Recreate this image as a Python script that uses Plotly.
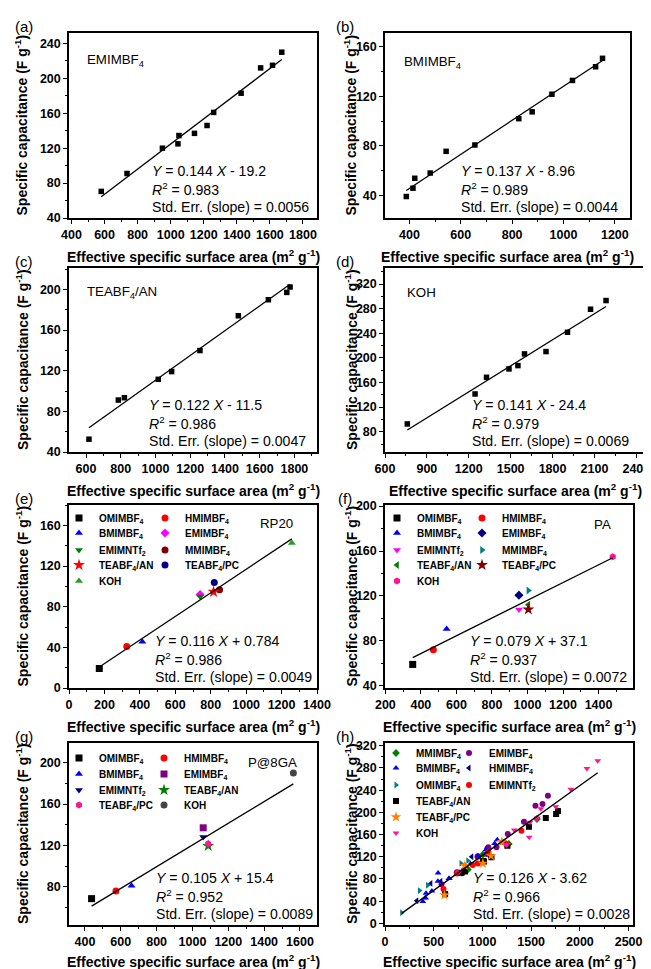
import plotly.graph_objects as go

PAGE_W, PAGE_H = 651, 969
OFF = 8                      # default body margin of the html page
W, H = PAGE_W - OFF, PAGE_H - OFF
FONT = "Liberation Sans"

# ---------------- data ----------------
# (a) EMIMBF4
a_x = [580, 736, 950, 1044, 1050, 1144, 1220, 1260, 1426, 1544, 1616, 1672]
a_y = [70.5, 91, 120, 125, 134.5, 137, 146, 161, 183, 212, 215, 230]
# (b) BMIMBF4
b_x = [388, 414, 421, 481, 543, 655, 826, 878, 955, 1035, 1125, 1152]
b_y = [39.3, 46, 54, 58.2, 75.7, 80.8, 102, 107.5, 121.7, 132.8, 143.8, 150.6]
# (c) TEABF4/AN
c_x = [617, 786, 821, 1016, 1093, 1256, 1477, 1650, 1756, 1775]
c_y = [52.6, 91.1, 93.4, 111.5, 119.1, 139.8, 174, 189.8, 197, 202.3]
# (d) KOH
d_x = [760, 1245, 1327, 1488, 1552, 1599, 1753, 1907, 2072, 2183]
d_y = [92.6, 141.3, 168.4, 182, 187.4, 206.4, 210.2, 241.6, 279, 293.1]

# (e) RP20
e_names = ["OMIMBF<sub>4</sub>", "HMIMBF<sub>4</sub>", "BMIMBF<sub>4</sub>", "EMIMBF<sub>4</sub>",
           "EMIMNTf<sub>2</sub>", "MMIMBF<sub>4</sub>", "TEABF<sub>4</sub>/AN", "TEABF<sub>4</sub>/PC", "KOH"]
e_x = [171, 326, 414, 740, 740, 850, 816, 820, 1258]
e_y = [19.2, 40.7, 45.6, 92, 90, 96.6, 94.6, 103.7, 142.7]
e_symbols = ["square", "circle", "triangle-up", "diamond", "triangle-down", "circle", "star", "circle", "triangle-up"]
e_colors = ["black", "red", "blue", "#FF00FF", "#008000", "#800000", "red", "#000080", "#22A022"]

# (f) PA
f_names = ["OMIMBF<sub>4</sub>", "HMIMBF<sub>4</sub>", "BMIMBF<sub>4</sub>", "EMIMBF<sub>4</sub>",
           "EMIMNTf<sub>2</sub>", "MMIMBF<sub>4</sub>", "TEABF<sub>4</sub>/AN", "TEABF<sub>4</sub>/PC", "KOH"]
f_x = [354, 470, 545, 952, 952, 1005, 1005, 1005, 1480]
f_y = [59, 72, 90.5, 120.7, 108, 124.8, 112.2, 108, 155]
f_symbols = ["square", "circle", "triangle-up", "diamond", "triangle-down", "triangle-right", "triangle-left", "star", "hexagon"]
f_colors = ["black", "red", "blue", "#000080", "#FF00FF", "#008080", "#008000", "#800000", "#FF1493"]

# (g) P@8GA
g_names = ["OMIMBF<sub>4</sub>", "HMIMBF<sub>4</sub>", "BMIMBF<sub>4</sub>", "EMIMBF<sub>4</sub>",
           "EMIMNTf<sub>2</sub>", "TEABF<sub>4</sub>/AN", "TEABF<sub>4</sub>/PC", "KOH"]
g_x = [437, 573, 660, 1060, 1060, 1088, 1088, 1563]
g_y = [68.5, 76, 81, 137, 128, 119.5, 121.5, 190]
g_symbols = ["square", "circle", "triangle-up", "square", "triangle-down", "star", "hexagon", "circle"]
g_colors = ["black", "red", "blue", "#800080", "#000080", "#008000", "#FF1493", "#444444"]

# (h) all electrolytes
h_MMIMBF4_x = [790, 850, 1005, 1270, 1560]
h_MMIMBF4_y = [91, 97, 124, 143, 188]
h_EMIMBF4_x = [580, 736, 950, 1044, 1050, 1144, 1220, 1260, 1426, 1544, 1616, 1672, 740, 952, 1060]
h_EMIMBF4_y = [70.5, 91, 120, 125, 134.5, 137, 146, 161, 183, 212, 215, 230, 92, 120.7, 137]
h_BMIMBF4_x = [388, 414, 421, 481, 543, 655, 826, 878, 955, 1035, 1125, 1152, 414, 545, 660]
h_BMIMBF4_y = [39.3, 46, 54, 58.2, 75.7, 80.8, 102, 107.5, 121.7, 132.8, 143.8, 150.6, 45.6, 90.5, 81]
h_HMIMBF4_x = [326, 470, 573, 890]
h_HMIMBF4_y = [40.7, 72, 76, 120]
h_OMIMBF4_x = [171, 354, 437, 780, 850]
h_OMIMBF4_y = [19.2, 59, 68.5, 108, 113]
h_EMIMNTf2_x = [600, 740, 900, 952, 1060, 1250, 1400]
h_EMIMNTf2_y = [62, 90, 105, 108, 128, 142, 167]
h_TEAAN_x = [617, 786, 821, 1016, 1093, 1256, 1477, 1650, 1756, 1775, 816, 1005, 1088]
h_TEAAN_y = [52.6, 91.1, 93.4, 111.5, 119.1, 139.8, 174, 189.8, 197, 202.3, 94.6, 112.2, 119.5]
h_TEAPC_x = [610, 820, 1005, 1088, 1200]
h_TEAPC_y = [51, 103.7, 108, 121.5, 147]
h_KOH_x = [760, 1245, 1327, 1488, 1552, 1599, 1753, 1907, 2072, 2183, 1258, 1480, 1563]
h_KOH_y = [92.6, 141.3, 168.4, 182, 187.4, 206.4, 210.2, 241.6, 279, 293.1, 142.7, 155, 190]

h_names = ["MMIMBF<sub>4</sub>", "EMIMBF<sub>4</sub>", "BMIMBF<sub>4</sub>", "HMIMBF<sub>4</sub>",
           "OMIMBF<sub>4</sub>", "EMIMNTf<sub>2</sub>", "TEABF<sub>4</sub>/AN", "TEABF<sub>4</sub>/PC", "KOH"]
h_xs = [h_MMIMBF4_x, h_EMIMBF4_x, h_BMIMBF4_x, h_HMIMBF4_x, h_OMIMBF4_x, h_EMIMNTf2_x, h_TEAAN_x, h_TEAPC_x, h_KOH_x]
h_ys = [h_MMIMBF4_y, h_EMIMBF4_y, h_BMIMBF4_y, h_HMIMBF4_y, h_OMIMBF4_y, h_EMIMNTf2_y, h_TEAAN_y, h_TEAPC_y, h_KOH_y]
h_symbols = ["diamond", "circle", "triangle-up", "triangle-left", "triangle-right", "circle", "square", "star", "triangle-down"]
h_colors = ["#008000", "#800080", "blue", "#000080", "#008080", "red", "black", "#FF8000", "#FF1493"]
h_cells = [(0, 0), (0, 1), (1, 0), (1, 1), (2, 0), (2, 1), (3, 0), (4, 0), (5, 0)]

# linear fits
fit_slope = {"a": 0.144, "b": 0.137, "c": 0.122, "d": 0.141, "e": 0.116, "f": 0.079, "g": 0.105, "h": 0.126}
fit_icpt = {"a": -19.2, "b": -8.96, "c": -11.5, "d": -24.4, "e": 0.784, "f": 37.1, "g": 15.4, "h": -3.62}
fit_r2 = {"a": "0.983", "b": "0.989", "c": "0.986", "d": "0.979", "e": "0.986", "f": "0.937", "g": "0.952", "h": "0.966"}
fit_se = {"a": "0.0056", "b": "0.0044", "c": "0.0047", "d": "0.0069", "e": "0.0049", "f": "0.0072", "g": "0.0089", "h": "0.0028"}

# ---------------- layout geometry (page px) ----------------
panels = ["a", "b", "c", "d", "e", "f", "g", "h"]
frames = {
    "a": (69, 317, 33, 218), "b": (385, 630, 33, 218),
    "c": (69, 317, 268, 452), "d": (385, 645, 268, 452),
    "e": (69, 317, 505, 688), "f": (385, 633, 505, 688),
    "g": (69, 317, 743, 925), "h": (385, 633, 743, 925),
}
xcfg = {  # range, tick0, dtick, minor dtick
    "a": ([385, 1885], 400, 200, 100), "b": ([305, 1259], 400, 200, 100),
    "c": ([502, 1930], 600, 200, 100), "d": ([600, 2462], 600, 300, 150),
    "e": ([0, 1400], 0, 200, 100), "f": ([198, 1594], 200, 200, 100),
    "g": ([311, 1695], 400, 200, 100), "h": ([0, 2545], 0, 500, 250),
}
ycfg = {
    "a": ([40, 252], 40, 40, 20), "b": ([22, 171], 40, 40, 20),
    "c": ([40, 221], 40, 40, 20), "d": ([47, 346], 80, 40, 20),
    "e": ([0, 180], 0, 40, 20), "f": ([38, 201], 40, 40, 20),
    "g": ([43, 219], 80, 40, 20), "h": ([-3, 325], 0, 40, 20),
}
axis_id = {p: ("" if i == 0 else str(i + 1)) for i, p in enumerate(panels)}


def FX(px):
    return (px - OFF) / W


def FY(py):
    return 1 - (py - OFF) / H


fig = go.Figure()


def add_fit(p, xs):
    lo, hi = min(xs), max(xs)
    s, b = fit_slope[p], fit_icpt[p]
    fig.add_trace(go.Scatter(x=[lo, hi], y=[s * lo + b, s * hi + b], mode="lines",
                             line=dict(color="black", width=1.3), showlegend=False,
                             hoverinfo="skip", xaxis="x" + axis_id[p], yaxis="y" + axis_id[p]))


for p, (xs, ys) in {"a": (a_x, a_y), "b": (b_x, b_y), "c": (c_x, c_y), "d": (d_x, d_y)}.items():
    fig.add_trace(go.Scatter(x=xs, y=ys, mode="markers",
                             marker=dict(symbol="square", size=5.5, color="black"),
                             showlegend=False, xaxis="x" + axis_id[p], yaxis="y" + axis_id[p]))
    add_fit(p, xs)

# legend cells: one single-item legend per cell, positioned by its text start
leg_text_x = {"e": (99, 185), "f": (417, 502), "g": (99, 184), "h": (416, 489)}
leg_row_y = {"e": [518, 533, 550, 565, 581], "f": [518, 533, 550, 565, 581],
             "g": [758, 774, 790, 805], "h": [753, 768, 785, 801, 817, 833]}
legend_defs = {}


def legend_name(p, cell):
    key = (p, cell)
    if key not in legend_defs:
        n = len(legend_defs) + 1
        legend_defs[key] = "legend" if n == 1 else f"legend{n}"
    return legend_defs[key]


multi = {
    "e": (e_names, [[v] for v in e_x], [[v] for v in e_y], e_symbols, e_colors, [(i // 2, i % 2) for i in range(9)]),
    "f": (f_names, [[v] for v in f_x], [[v] for v in f_y], f_symbols, f_colors, [(i // 2, i % 2) for i in range(9)]),
    "g": (g_names, [[v] for v in g_x], [[v] for v in g_y], g_symbols, g_colors, [(i // 2, i % 2) for i in range(8)]),
    "h": (h_names, h_xs, h_ys, h_symbols, h_colors, h_cells),
}
for p, (names, xs, ys, syms, cols, cells) in multi.items():
    allx = []
    for nm, xx, yy, sy, co, cell in zip(names, xs, ys, syms, cols, cells):
        sz = 7 if p != "h" else 6
        if sy == "star":
            sz += 2
        fig.add_trace(go.Scatter(x=xx, y=yy, mode="markers", name=nm,
                                 marker=dict(symbol=sy, size=sz, color=co, line=dict(width=0)),
                                 legend=legend_name(p, cell), showlegend=True,
                                 xaxis="x" + axis_id[p], yaxis="y" + axis_id[p]))
        allx += xx
    add_fit(p, allx)

layout = dict(width=W, height=H, margin=dict(l=0, r=0, t=0, b=0, autoexpand=False),
              paper_bgcolor="white", plot_bgcolor="white", showlegend=True)

tickfont = dict(family=FONT, size=12.5, color="black", weight="bold")
for p in panels:
    l, r, t, b = frames[p]
    xr, xt0, xdt, xm = xcfg[p]
    yr, yt0, ydt, ym = ycfg[p]
    common = dict(showline=True, linecolor="black", linewidth=1.5, mirror=True, ticks="outside",
                  ticklen=4, tickwidth=1.2, tickcolor="black", showgrid=False, zeroline=False,
                  tickfont=tickfont)
    layout["xaxis" + axis_id[p]] = dict(domain=[FX(l), FX(r)], range=xr, tick0=xt0, dtick=xdt,
                                        anchor="y" + axis_id[p],
                                        minor=dict(ticks="outside", ticklen=2.5, tick0=xt0, dtick=xm,
                                                   tickcolor="black", showgrid=False), **common)
    layout["yaxis" + axis_id[p]] = dict(domain=[FY(b), FY(t)], range=yr, tick0=yt0, dtick=ydt,
                                        anchor="x" + axis_id[p],
                                        minor=dict(ticks="outside", ticklen=2.5, tick0=yt0, dtick=ym,
                                                   tickcolor="black", showgrid=False), **common)

for (p, (row, col)), name in legend_defs.items():
    tx = leg_text_x[p][col]
    layout[name] = dict(x=FX(tx - 40), y=FY(leg_row_y[p][row]), xanchor="left", yanchor="middle",
                        orientation="v", font=dict(family=FONT, size=10, color="black", weight="bold"),
                        bgcolor="rgba(0,0,0,0)", borderwidth=0, tracegroupgap=0,
                        itemclick=False, itemdoubleclick=False)

ann = []


def text(t, x, y, size, xanchor="left", bold=False, angle=0):
    ann.append(dict(text=t, x=FX(x), y=FY(y), xref="paper", yref="paper", xanchor=xanchor,
                    yanchor="middle", showarrow=False, textangle=angle,
                    font=dict(family=FONT, size=size, color="black", weight="bold" if bold else "normal")))


eq_x = {"a": 150, "b": 459, "c": 147, "d": 470, "e": 153, "f": 468, "g": 154, "h": 471}
for p in panels:
    l, r, t, b = frames[p]
    s, c = fit_slope[p], fit_icpt[p]
    sign = "+" if c >= 0 else "-"
    x0 = eq_x[p]
    text(f"<i>Y</i> = {s:g} <i>X</i> {sign} {abs(c):g}", x0, b - 47, 14.1)
    text(f"<i>R</i><sup>2</sup> = {fit_r2[p]}", x0, b - 29, 14.1)
    text(f"Std. Err. (slope) = {fit_se[p]}", x0, b - 11, 14.1)
    # panel letter
    lx = 24 if l < 200 else 345
    text(f"({p})", lx, t - 7, 15, xanchor="center")
    # axis titles
    ty = b + 38 if p not in ("g", "h") else b + 36
    text("Effective specific surface area (m<sup>2</sup> g<sup>-1</sup>)", (l + r) / 2, ty, 14,
         xanchor="center", bold=True)
    tx = 22 if l < 200 else 351
    text("Specific capacitance (F g<sup>-1</sup>)", tx, (t + b) / 2, 14, xanchor="center", bold=True, angle=-90)

# panel tags
la, ra, ta, ba = frames["a"]
text("EMIMBF<sub>4</sub>", la + 16, ta + 27, 13.3)
lb, rb, tb, bb = frames["b"]
text("BMIMBF<sub>4</sub>", lb + 17, tb + 29, 13.3)
lc, rc, tc, bc = frames["c"]
text("TEABF<sub>4</sub>/AN", lc + 16, tc + 24, 13.3)
ld, rd, td, bd = frames["d"]
text("KOH", ld + 20, td + 24, 13.3)
le, re_, te, be = frames["e"]
text("RP20", 276, te + 18, 13.3, xanchor="center")
lf, rf, tf, bf = frames["f"]
text("PA", 602, tf + 19, 13.3, xanchor="center")
lg, rg, tg, bg = frames["g"]
text("P@8GA", 272, tg + 19, 13.3, xanchor="center")

layout["annotations"] = ann
fig.update_layout(**layout)
fig.write_html("out.html")
